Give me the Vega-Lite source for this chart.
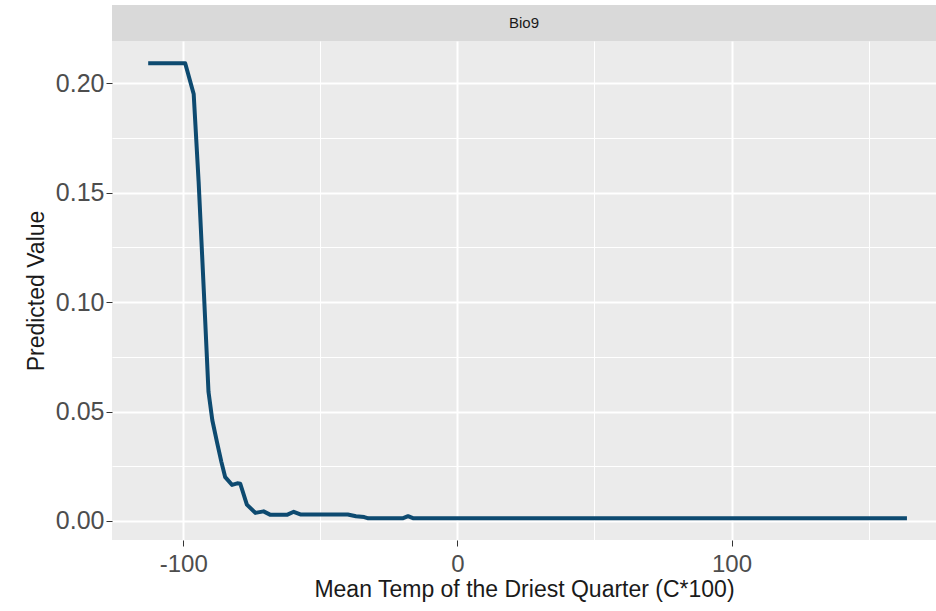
{
  "$schema": "https://vega.github.io/schema/vega-lite/v6.json",
  "autosize": {"type": "none"},
  "padding": {"left": 112, "top": 5, "right": 824, "bottom": 606},
  "background": "white",
  "spacing": 0,
  "config": {
    "font": "Liberation Sans",
    "view": {"stroke": null},
    "concat": {"spacing": 0}
  },
  "vconcat": [
    {
      "width": 824,
      "height": 36,
      "view": {"fill": "#d9d9d9", "stroke": null},
      "data": {"values": [{"label": "Bio9"}]},
      "mark": {"type": "text", "fontSize": 15, "color": "#1a1a1a", "font": "Liberation Sans"},
      "encoding": {"text": {"field": "label"}}
    },
    {
      "width": 824,
      "height": 499,
      "view": {"fill": "#ebebeb", "stroke": null},
      "data": {
        "values": [
          {"temp": -112.8, "pred": 0.209},
          {"temp": -99.3, "pred": 0.209},
          {"temp": -96.2, "pred": 0.195},
          {"temp": -94.4, "pred": 0.155},
          {"temp": -92.5, "pred": 0.105},
          {"temp": -90.8, "pred": 0.059},
          {"temp": -89.4, "pred": 0.046},
          {"temp": -87.7, "pred": 0.036},
          {"temp": -86.1, "pred": 0.027},
          {"temp": -84.7, "pred": 0.02},
          {"temp": -82.2, "pred": 0.0165},
          {"temp": -80.3, "pred": 0.0172},
          {"temp": -79.2, "pred": 0.017},
          {"temp": -76.8, "pred": 0.0075},
          {"temp": -73.7, "pred": 0.0037},
          {"temp": -70.7, "pred": 0.0044},
          {"temp": -68.2, "pred": 0.0028},
          {"temp": -62.2, "pred": 0.0028},
          {"temp": -59.7, "pred": 0.0042},
          {"temp": -57.3, "pred": 0.003},
          {"temp": -45, "pred": 0.003},
          {"temp": -40, "pred": 0.003},
          {"temp": -37, "pred": 0.0022},
          {"temp": -34, "pred": 0.0018},
          {"temp": -32.5, "pred": 0.0012},
          {"temp": -20, "pred": 0.0012},
          {"temp": -18, "pred": 0.0022},
          {"temp": -16, "pred": 0.0012},
          {"temp": 164, "pred": 0.0012}
        ]
      },
      "mark": {"type": "line", "color": "#0d4a70", "strokeWidth": 4, "clip": true, "strokeJoin": "round", "strokeCap": "butt"},
      "encoding": {
        "x": {
          "field": "temp",
          "type": "quantitative",
          "scale": {"domain": [-126, 174.6], "nice": false, "zero": false},
          "axis": {
            "title": "Mean Temp of the Driest Quarter (C*100)",
            "values": [-100, -50, 0, 50, 100, 150],
            "labelExpr": "datum.value % 100 === 0 ? toString(datum.value) : ''",
            "labelOverlap": false,
            "labelFlush": false,
            "domain": false,
            "grid": true,
            "gridColor": "white",
            "gridWidth": {"condition": {"test": "datum.value % 100 === 0", "value": 2}, "value": 1},
            "tickColor": {"condition": {"test": "datum.value % 100 === 0", "value": "#333333"}, "value": "transparent"},
            "tickSize": 6,
            "tickWidth": 1,
            "labelPadding": 6,
            "labelFontSize": 24,
            "labelColor": "#4d4d4d",
            "titleFontSize": 23,
            "titleFontWeight": "normal",
            "titleColor": "#1a1a1a",
            "titlePadding": 2
          }
        },
        "y": {
          "field": "pred",
          "type": "quantitative",
          "scale": {"domain": [-0.00868, 0.2192], "nice": false, "zero": false},
          "axis": {
            "title": "Predicted Value",
            "values": [0, 0.025, 0.05, 0.075, 0.1, 0.125, 0.15, 0.175, 0.2],
            "format": ".2f",
            "labelExpr": "round(datum.value * 40) % 2 === 0 ? datum.label : ''",
            "labelOverlap": false,
            "labelFlush": false,
            "domain": false,
            "grid": true,
            "gridColor": "white",
            "gridWidth": {"condition": {"test": "round(datum.value * 40) % 2 === 0", "value": 2}, "value": 1},
            "tickColor": {"condition": {"test": "round(datum.value * 40) % 2 === 0", "value": "#333333"}, "value": "transparent"},
            "tickSize": 6,
            "tickWidth": 1,
            "labelPadding": 2,
            "labelFontSize": 25,
            "labelColor": "#4d4d4d",
            "titleFontSize": 23,
            "titleFontWeight": "normal",
            "titleColor": "#1a1a1a",
            "titlePadding": 7
          }
        }
      }
    }
  ]
}
